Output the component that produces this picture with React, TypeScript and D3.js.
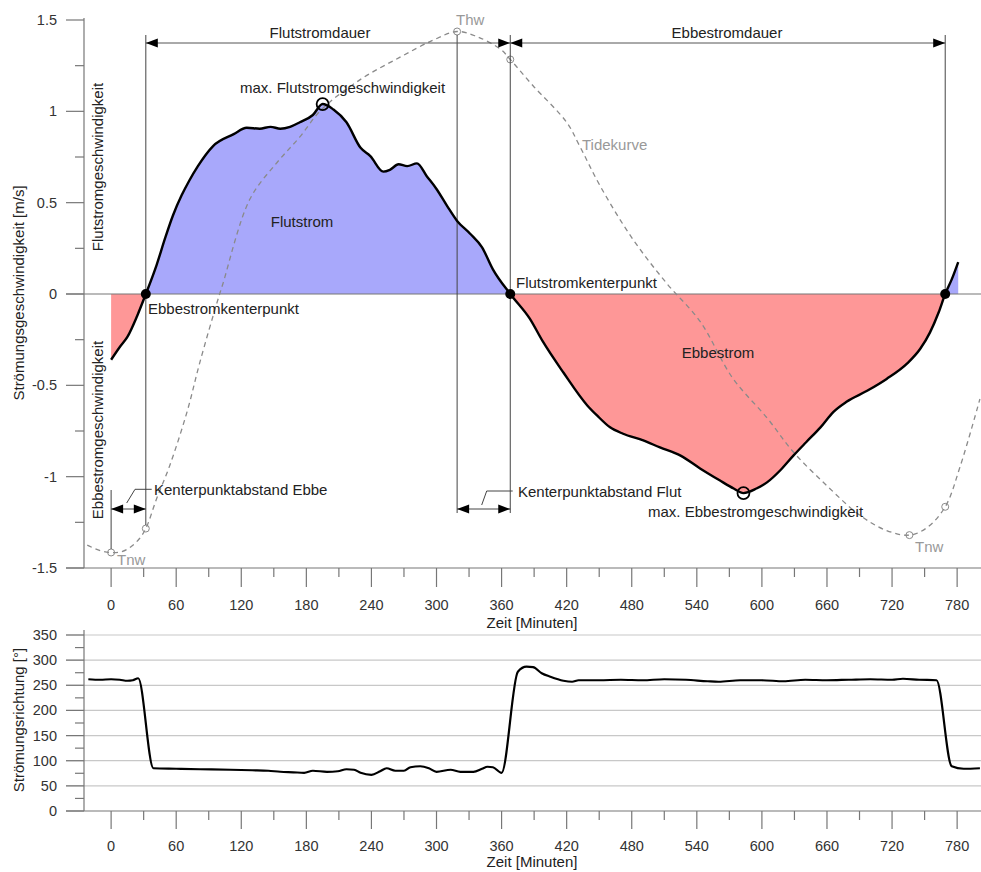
import React from "react";
import * as d3 from "d3";

// ---- Data ----
const velTime = [0, 8, 15, 24, 32, 42, 50, 57, 65, 72, 80, 94, 113, 125, 137, 147, 156, 165, 174, 186, 195, 205, 217, 230, 239, 251, 257, 265, 273, 282, 291, 300, 310, 319, 331, 342, 352, 368, 386, 398, 417, 439, 448, 460, 472, 490, 506, 525, 543, 561, 574, 583, 595, 605, 617, 629, 641, 654, 666, 678, 697, 715, 734, 746, 755, 763, 769, 775, 781];
const velValue = [-0.36, -0.29, -0.235, -0.12, 0, 0.16, 0.31, 0.43, 0.54, 0.62, 0.7, 0.81, 0.875, 0.91, 0.905, 0.915, 0.905, 0.915, 0.94, 0.98, 1.04, 1.01, 0.94, 0.8, 0.755, 0.67, 0.68, 0.71, 0.7, 0.715, 0.645, 0.575, 0.48, 0.4, 0.33, 0.255, 0.135, 0, -0.135, -0.26, -0.43, -0.61, -0.665, -0.73, -0.765, -0.8, -0.84, -0.885, -0.955, -1.02, -1.065, -1.09, -1.065, -1.03, -0.965, -0.885, -0.81, -0.73, -0.645, -0.59, -0.53, -0.465, -0.38, -0.3, -0.21, -0.1, 0, 0.08, 0.175];

const tideTime = [-22, -10, 0, 10, 18, 26, 32, 42, 54, 70, 82, 98, 103, 128, 153, 174, 194, 230, 266, 297, 319, 337, 359, 368, 389, 420, 432, 451, 481, 512, 543, 573, 605, 629, 660, 690, 715, 736, 752, 769, 783, 801];
const tideValue = [-1.375, -1.405, -1.415, -1.41, -1.385, -1.34, -1.284, -1.12, -0.94, -0.645, -0.37, -0.04, 0.055, 0.52, 0.72, 0.86, 1.01, 1.175, 1.295, 1.39, 1.437, 1.41, 1.34, 1.284, 1.14, 0.94, 0.81, 0.59, 0.3, 0.06, -0.15, -0.46, -0.68, -0.865, -1.05, -1.21, -1.295, -1.32, -1.28, -1.165, -0.94, -0.575];

const dirTime = [-21, -10, 0, 8, 15, 20, 25, 39, 60, 82, 110, 130, 145, 156, 168, 178, 186, 199, 209, 217, 224, 230, 240, 248, 254, 262, 270, 276, 285, 293, 300, 313, 322, 334, 342, 347, 352, 360, 375, 383, 389, 397, 405, 417, 425, 431, 450, 470, 490, 510, 530, 550, 560, 580, 600, 620, 640, 660, 680, 700, 720, 730, 745, 761, 775, 786, 801];
const dirValue = [262, 261, 262, 261, 259, 260, 264, 85, 84, 83, 82, 81, 80, 78, 77, 76, 80, 78, 79, 83, 82, 76, 72, 79, 85, 80, 80, 87, 89, 85, 78, 82, 78, 78, 84, 88, 87, 76, 277, 287, 286, 274, 267, 259, 257, 260, 260, 261, 260, 262, 261, 258, 257, 260, 260, 258, 261, 260, 261, 262, 261, 263, 261, 260, 89, 84, 85];

const xTicks = [0, 60, 120, 180, 240, 300, 360, 420, 480, 540, 600, 660, 720, 780];
const velTicks = [-1.5, -1, -0.5, 0, 0.5, 1, 1.5];
const dirTicks = [0, 50, 100, 150, 200, 250, 300, 350];

// events: slack points / tide extremes (minutes)
const tnwTime = 0;
const ebbSlack1 = 32;
const thwTime = 319;
const floodSlack = 368;
const ebbSlack2 = 769;
const tnw2Time = 736;
const maxFloodT = 195, maxFloodV = 1.04;
const maxEbbT = 583, maxEbbV = -1.09;

const FONT = "Liberation Sans, Arial, Helvetica, sans-serif";

export default function App() {
  const W = 981;
  const x = d3.scaleLinear().domain([-25, 802]).range([84, 981]);
  const y = d3.scaleLinear().domain([-1.5, 1.5]).range([568, 20]);
  const y2 = d3.scaleLinear().domain([0, 350]).range([811, 635]);

  const vel = velTime.map((t, i) => [t, velValue[i]] as [number, number]);
  const tide = tideTime.map((t, i) => [t, tideValue[i]] as [number, number]);
  const dir = dirTime.map((t, i) => [t, dirValue[i]] as [number, number]);

  const velLine = d3.line<[number, number]>().x(d => x(d[0])).y(d => y(d[1])).curve(d3.curveMonotoneX);
  const velArea = d3.area<[number, number]>().x(d => x(d[0])).y0(y(0)).y1(d => y(d[1])).curve(d3.curveMonotoneX);
  const tideLine = d3.line<[number, number]>().x(d => x(d[0])).y(d => y(d[1])).curve(d3.curveCatmullRom);
  const dirLine = d3.line<[number, number]>().x(d => x(d[0])).y(d => y2(d[1])).curve(d3.curveMonotoneX);

  const minor = d3.range(30, 802, 60);
  const velMinor = d3.range(-1.25, 1.5, 0.5);
  const dirMinor = d3.range(25, 350, 50);

  const tideAt = (t: number) => {
    const i = tideTime.indexOf(t);
    return i >= 0 ? tideValue[i] : 0;
  };

  const arrow = (px: number, py: number, dirn: number, key: string) => (
    <polygon key={key} points={`${px},${py} ${px - dirn * 12},${py - 4.5} ${px - dirn * 12},${py + 4.5}`} fill="#000" />
  );

  const axisCol = "#777";
  const txt = { fontFamily: FONT, fontSize: 15, fill: "#222" } as const;
  const tickTxt = { fontFamily: FONT, fontSize: 14.5, fill: "#333" } as const;
  const grayTxt = { fontFamily: FONT, fontSize: 15, fill: "#999" } as const;
  const dimY = 43;
  const kY = 509;

  return (
    <svg width={W} height={872} style={{ position: "absolute", left: 0, top: 0, background: "#fff" }}>
      <defs>
        <clipPath id="posClip"><rect x={0} y={0} width={W} height={y(0)} /></clipPath>
        <clipPath id="negClip"><rect x={0} y={y(0)} width={W} height={600} /></clipPath>
      </defs>

      {/* ===== Top chart ===== */}
      <path d={velArea(vel) || ""} fill="#a8a8fb" clipPath="url(#posClip)" />
      <path d={velArea(vel) || ""} fill="#fe9797" clipPath="url(#negClip)" />

      {/* axes */}
      <line x1={84} x2={84} y1={18} y2={568} stroke={axisCol} strokeWidth={1.2} />
      <line x1={66} x2={W} y1={568} y2={568} stroke={axisCol} strokeWidth={1.2} />
      <line x1={66} x2={W} y1={y(0)} y2={y(0)} stroke={axisCol} strokeWidth={1.2} />
      {velTicks.map(v => (
        <g key={"vt" + v}>
          <line x1={66} x2={84} y1={y(v)} y2={y(v)} stroke={axisCol} strokeWidth={1.2} />
          <text x={57} y={y(v) + 5} textAnchor="end" {...tickTxt}>{String(v)}</text>
        </g>
      ))}
      {velMinor.map(v => (
        <line key={"vm" + v} x1={75} x2={84} y1={y(v)} y2={y(v)} stroke={axisCol} strokeWidth={1.2} />
      ))}
      {xTicks.map(t => (
        <g key={"xt" + t}>
          <line x1={x(t)} x2={x(t)} y1={568} y2={587} stroke={axisCol} strokeWidth={1.2} />
          <text x={x(t)} y={610} textAnchor="middle" {...tickTxt}>{t}</text>
        </g>
      ))}
      {minor.map(t => (
        <line key={"xm" + t} x1={x(t)} x2={x(t)} y1={568} y2={577} stroke={axisCol} strokeWidth={1.2} />
      ))}
      <text x={532} y={628} textAnchor="middle" {...txt}>Zeit [Minuten]</text>
      <text transform="translate(24,293) rotate(-90)" textAnchor="middle" {...txt}>Strömungsgeschwindigkeit [m/s]</text>
      <text transform="translate(103,167) rotate(-90)" textAnchor="middle" {...txt}>Flutstromgeschwindigkeit</text>
      <text transform="translate(103,430) rotate(-90)" textAnchor="middle" {...txt}>Ebbestromgeschwindigkeit</text>

      {/* tide curve */}
      <path d={tideLine(tide) || ""} fill="none" stroke="#8a8a8a" strokeWidth={1.3} strokeDasharray="5,4" />
      {[tnwTime, ebbSlack1, thwTime, floodSlack, tnw2Time, ebbSlack2].map(t => (
        <circle key={"tc" + t} cx={x(t)} cy={y(tideAt(t))} r={3.5} fill="none" stroke="#8a8a8a" strokeWidth={1} />
      ))}
      <text x={456} y={25} {...grayTxt}>Thw</text>
      <text x={117} y={565} {...grayTxt}>Tnw</text>
      <text x={915} y={552} {...grayTxt}>Tnw</text>
      <text x={582} y={150} {...grayTxt}>Tidekurve</text>

      {/* vertical reference lines */}
      <line x1={x(tnwTime)} x2={x(tnwTime)} y1={490} y2={y(tideAt(tnwTime)) - 3.5} stroke="#444" strokeWidth={1} />
      <line x1={x(ebbSlack1)} x2={x(ebbSlack1)} y1={35} y2={y(tideAt(ebbSlack1)) - 3.5} stroke="#444" strokeWidth={1} />
      <line x1={x(thwTime)} x2={x(thwTime)} y1={y(tideAt(thwTime)) + 3.5} y2={513} stroke="#444" strokeWidth={1} />
      <line x1={x(floodSlack)} x2={x(floodSlack)} y1={35} y2={513} stroke="#444" strokeWidth={1} />
      <line x1={x(ebbSlack2)} x2={x(ebbSlack2)} y1={35} y2={y(0)} stroke="#444" strokeWidth={1} />

      {/* duration dimension lines */}
      <line x1={x(ebbSlack1)} x2={x(ebbSlack2)} y1={dimY} y2={dimY} stroke="#555" strokeWidth={1} />
      {arrow(x(ebbSlack1), dimY, -1, "a1")}
      {arrow(x(floodSlack), dimY, 1, "a2")}
      {arrow(x(floodSlack), dimY, -1, "a3")}
      {arrow(x(ebbSlack2), dimY, 1, "a4")}
      <text x={320} y={38} textAnchor="middle" {...txt}>Flutstromdauer</text>
      <text x={727} y={38} textAnchor="middle" {...txt}>Ebbestromdauer</text>

      {/* slack distance dimensions */}
      <line x1={x(tnwTime)} x2={x(ebbSlack1)} y1={kY} y2={kY} stroke="#444" strokeWidth={1} />
      {arrow(x(tnwTime), kY, -1, "k1")}
      {arrow(x(ebbSlack1), kY, 1, "k2")}
      <polyline points={`126.7,503 135,489.3 151.7,489.3`} fill="none" stroke="#444" strokeWidth={1} />
      <text x={154} y={494.5} {...txt}>Kenterpunktabstand Ebbe</text>
      <line x1={x(thwTime)} x2={x(floodSlack)} y1={kY} y2={kY} stroke="#444" strokeWidth={1} />
      {arrow(x(thwTime), kY, -1, "k3")}
      {arrow(x(floodSlack), kY, 1, "k4")}
      <polyline points={`481.7,505 486.7,491 512.7,491`} fill="none" stroke="#444" strokeWidth={1} />
      <text x={518} y={496.5} {...txt}>Kenterpunktabstand Flut</text>

      {/* velocity curve */}
      <path d={velLine(vel) || ""} fill="none" stroke="#000" strokeWidth={2.4} strokeLinejoin="round" />
      {[ebbSlack1, floodSlack, ebbSlack2].map(t => (
        <circle key={"sl" + t} cx={x(t)} cy={y(0)} r={5} fill="#000" />
      ))}
      <circle cx={x(maxFloodT)} cy={y(maxFloodV)} r={6} fill="none" stroke="#000" strokeWidth={1.8} />
      <circle cx={x(maxEbbT)} cy={y(maxEbbV)} r={6} fill="none" stroke="#000" strokeWidth={1.8} />

      <text x={240} y={93} {...txt}>max. Flutstromgeschwindigkeit</text>
      <text x={648} y={517} {...txt}>max. Ebbestromgeschwindigkeit</text>
      <text x={148} y={314} {...txt}>Ebbestromkenterpunkt</text>
      <text x={516} y={288} {...txt}>Flutstromkenterpunkt</text>
      <text x={302} y={227} textAnchor="middle" {...txt}>Flutstrom</text>
      <text x={718} y={358} textAnchor="middle" {...txt}>Ebbestrom</text>

      {/* ===== Bottom chart ===== */}
      {dirTicks.filter(v => v > 0).map(v => (
        <line key={"dg" + v} x1={66} x2={W} y1={y2(v)} y2={y2(v)} stroke="#c8c8c8" strokeWidth={1.2} />
      ))}
      <line x1={84} x2={84} y1={630} y2={811} stroke={axisCol} strokeWidth={1.2} />
      <line x1={66} x2={W} y1={811} y2={811} stroke={axisCol} strokeWidth={1.2} />
      {dirTicks.map(v => (
        <g key={"dt" + v}>
          <line x1={66} x2={84} y1={y2(v)} y2={y2(v)} stroke={axisCol} strokeWidth={1.2} />
          <text x={57} y={y2(v) + 5} textAnchor="end" {...tickTxt}>{v}</text>
        </g>
      ))}
      {dirMinor.map(v => (
        <line key={"dm" + v} x1={75} x2={84} y1={y2(v)} y2={y2(v)} stroke={axisCol} strokeWidth={1.2} />
      ))}
      {xTicks.map(t => (
        <g key={"bx" + t}>
          <line x1={x(t)} x2={x(t)} y1={811} y2={829} stroke={axisCol} strokeWidth={1.2} />
          <text x={x(t)} y={851} textAnchor="middle" {...tickTxt}>{t}</text>
        </g>
      ))}
      {minor.map(t => (
        <line key={"bm" + t} x1={x(t)} x2={x(t)} y1={811} y2={820} stroke={axisCol} strokeWidth={1.2} />
      ))}
      <text x={532} y={867} textAnchor="middle" {...txt}>Zeit [Minuten]</text>
      <text transform="translate(24,720) rotate(-90)" textAnchor="middle" {...txt}>Strömungsrichtung [°]</text>
      <path d={dirLine(dir) || ""} fill="none" stroke="#000" strokeWidth={2.2} strokeLinejoin="round" />
    </svg>
  );
}
